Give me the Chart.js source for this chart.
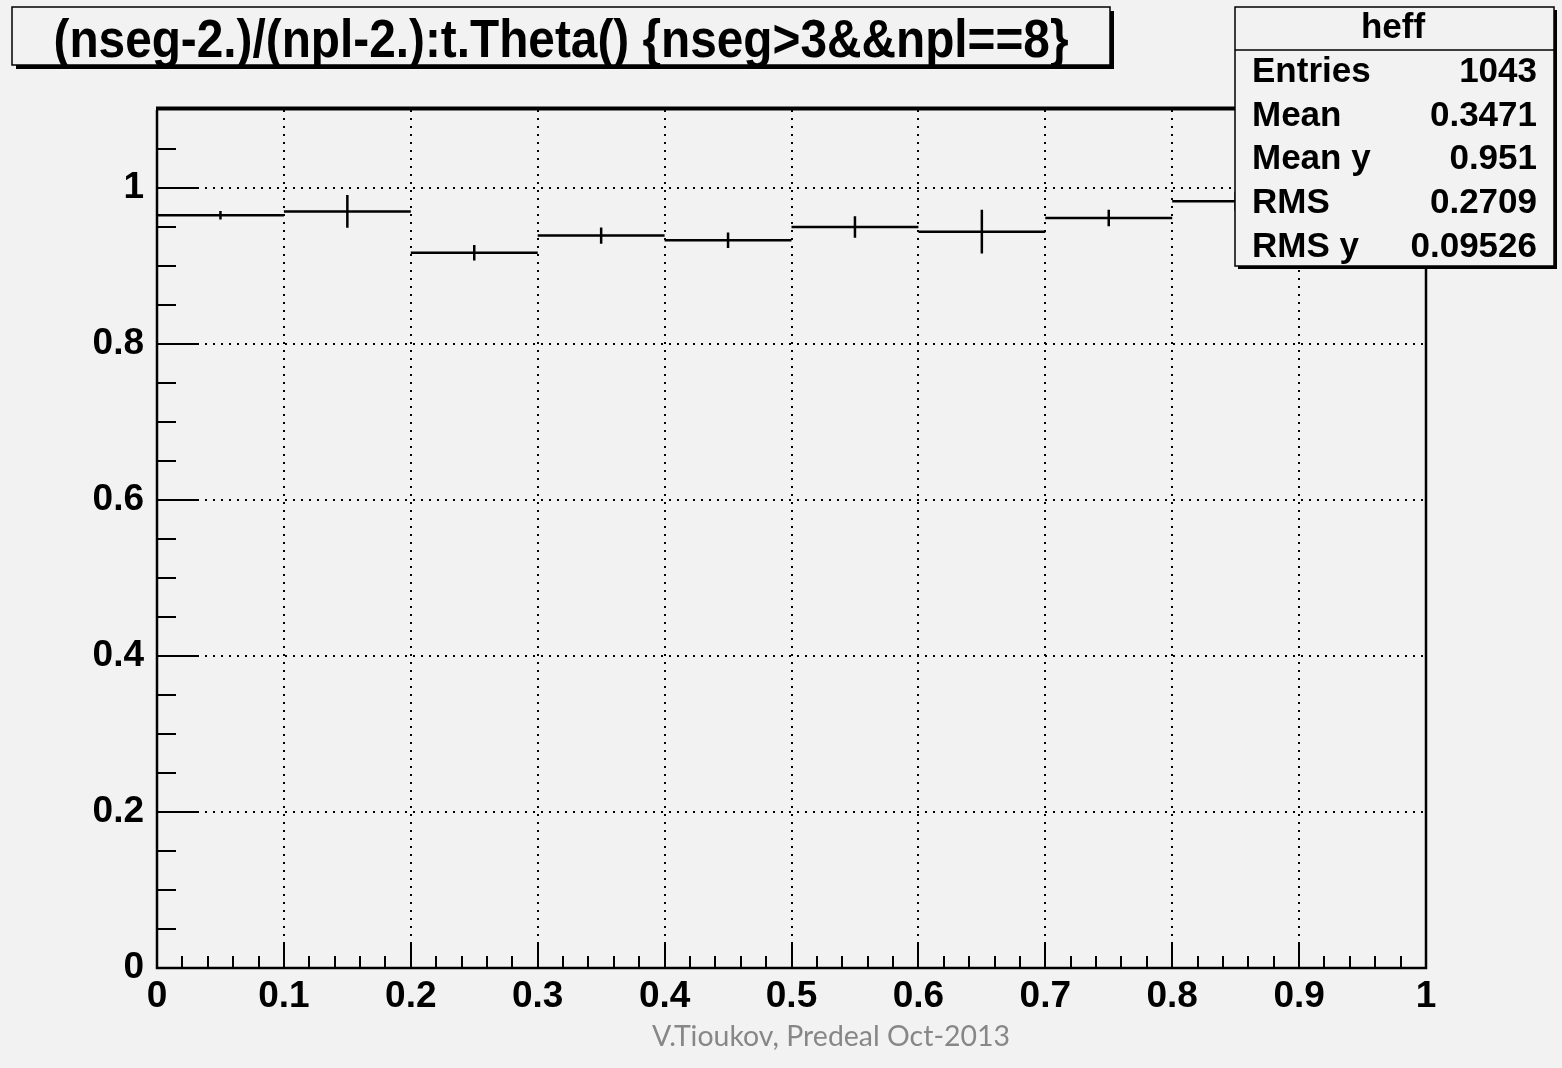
<!DOCTYPE html>
<html>
<head>
<meta charset="utf-8">
<title>heff</title>
<script src="https://cdn.jsdelivr.net/npm/chart.js@4.4.0/dist/chart.umd.min.js"></script>
<style>
  html, body { margin: 0; padding: 0; background: #f2f2f2; }
  canvas { display: block; }
</style>
</head>
<body>
<canvas id="c" width="1562" height="1068"></canvas>
<script>
// Profile of (nseg-2)/(npl-2) versus track theta, 10 bins of 0.1
const binEdges   = [0, 0.1, 0.2, 0.3, 0.4, 0.5, 0.6, 0.7, 0.8, 0.9, 1.0];
const effValues  = [0.965, 0.970, 0.917, 0.939, 0.933, 0.950, 0.944, 0.9615, 0.983, 0.955];
const effErrors  = [0.0054, 0.021, 0.010, 0.0105, 0.010, 0.0137, 0.028, 0.0105, 0.012, 0.015];

const xTickValues = [0, 0.1, 0.2, 0.3, 0.4, 0.5, 0.6, 0.7, 0.8, 0.9, 1];
const xTickLabels = ['0', '0.1', '0.2', '0.3', '0.4', '0.5', '0.6', '0.7', '0.8', '0.9', '1'];
const yTickValues = [0, 0.2, 0.4, 0.6, 0.8, 1];
const yTickLabels = ['0', '0.2', '0.4', '0.6', '0.8', '1'];

const titleText  = '(nseg-2.)/(npl-2.):t.Theta() {nseg>3&&npl==8}';
const statsName  = 'heff';
const statLabels = ['Entries', 'Mean', 'Mean y', 'RMS', 'RMS y'];
const statValues = ['1043', '0.3471', '0.951', '0.2709', '0.09526'];
const footerText = 'V.Tioukov, Predeal Oct-2013';

const BG = '#f2f2f2';
const AXIS_FONT = { family: '"Liberation Sans", Arial, sans-serif', weight: 'bold', size: 37 };

// horizontal bin lines: one segment per bin, separated by gaps
const histData = [];
const errData = [];
for (let i = 0; i < effValues.length; i++) {
  const lo = binEdges[i], hi = binEdges[i + 1], c = (lo + hi) / 2;
  histData.push({ x: lo, y: effValues[i] }, { x: hi, y: effValues[i] }, { x: hi, y: null });
  errData.push({ x: c, y: effValues[i] - effErrors[i] }, { x: c, y: effValues[i] + effErrors[i] }, { x: c, y: null });
}

function shadowBox(ctx, x, y, w, h, off) {
  ctx.fillStyle = '#000';
  ctx.fillRect(x + off, y + off, w, h);
  ctx.fillStyle = BG;
  ctx.fillRect(x, y, w, h);
  ctx.strokeStyle = '#000';
  ctx.lineWidth = 1.5;
  ctx.strokeRect(x, y, w, h);
}

const rootStyle = {
  id: 'rootStyle',
  beforeDraw(chart) {
    const ctx = chart.ctx;
    ctx.save();
    ctx.fillStyle = BG;
    ctx.fillRect(0, 0, chart.width, chart.height);
    ctx.restore();
  },
  afterDatasetsDraw(chart) {
    const ctx = chart.ctx;
    const xs = chart.scales.x, ys = chart.scales.y;
    const a = chart.chartArea;
    ctx.save();
    ctx.strokeStyle = '#000';
    ctx.lineWidth = 2;
    ctx.beginPath();
    // x ticks inside the frame: 5 subdivisions per 0.1
    for (let i = 0; i <= 50; i++) {
      const px = Math.round(xs.getPixelForValue(i / 50));
      const len = (i % 5 === 0) ? 25 : 12;
      ctx.moveTo(px, a.bottom);
      ctx.lineTo(px, a.bottom - len);
    }
    // y ticks inside the frame: 4 subdivisions per 0.2
    for (let i = 0; i < 22; i++) {
      const py = Math.round(ys.getPixelForValue(i / 20));
      const len = (i % 4 === 0) ? 41 : 19;
      ctx.moveTo(a.left, py);
      ctx.lineTo(a.left + len, py);
    }
    ctx.stroke();
    // frame
    ctx.lineWidth = 2.5;
    ctx.beginPath();
    ctx.moveTo(a.left, a.top);
    ctx.lineTo(a.left, a.bottom);
    ctx.lineTo(a.right, a.bottom);
    ctx.lineTo(a.right, a.top);
    ctx.stroke();
    ctx.lineWidth = 4;
    ctx.beginPath();
    ctx.moveTo(a.left - 1, a.top - 1.5);
    ctx.lineTo(a.right + 1, a.top - 1.5);
    ctx.stroke();
    ctx.restore();
  },
  afterDraw(chart) {
    const ctx = chart.ctx;
    ctx.save();
    // title pave
    shadowBox(ctx, 12, 7, 1098, 58, 4);
    ctx.fillStyle = '#000';
    ctx.font = 'bold 54px "Liberation Sans", Arial, sans-serif';
    ctx.textAlign = 'center';
    ctx.textBaseline = 'alphabetic';
    ctx.fillText(titleText, 561, 57, 1015);

    // statistics box
    const sx = 1235, sy = 7, sw = 319, sh = 259;
    shadowBox(ctx, sx, sy, sw, sh, 3);
    ctx.lineWidth = 1.5;
    ctx.beginPath();
    ctx.moveTo(sx, 50);
    ctx.lineTo(sx + sw, 50);
    ctx.stroke();
    ctx.fillStyle = '#000';
    ctx.font = 'bold 35px "Liberation Sans", Arial, sans-serif';
    ctx.textAlign = 'center';
    ctx.fillText(statsName, 1393, 38);
    for (let i = 0; i < statLabels.length; i++) {
      const by = 82 + i * 43.7;
      ctx.textAlign = 'left';
      ctx.fillText(statLabels[i], 1252, by);
      ctx.textAlign = 'right';
      ctx.fillText(statValues[i], 1537, by);
    }

    // footer
    ctx.fillStyle = '#878787';
    ctx.font = '29px Lato, "Open Sans", sans-serif';
    ctx.textAlign = 'center';
    ctx.fillText(footerText, 831, 1046, 358);
    ctx.restore();
  }
};

new Chart(document.getElementById('c'), {
  type: 'line',
  data: {
    datasets: [
      {
        label: 'bins',
        data: histData,
        borderColor: '#000',
        borderWidth: 2.5,
        pointRadius: 0,
        spanGaps: false,
        tension: 0,
        fill: false
      },
      {
        label: 'errors',
        data: errData,
        borderColor: '#000',
        borderWidth: 2.5,
        pointRadius: 0,
        spanGaps: false,
        tension: 0,
        fill: false
      }
    ]
  },
  options: {
    responsive: false,
    animation: false,
    devicePixelRatio: 1,
    layout: { padding: { top: 110, right: 136, left: 0, bottom: 0 } },
    plugins: {
      legend: { display: false },
      title: { display: false },
      tooltip: { enabled: false }
    },
    scales: {
      x: {
        type: 'linear',
        min: 0,
        max: 1,
        afterBuildTicks: s => { s.ticks = xTickValues.map(v => ({ value: v })); },
        afterFit: s => { s.height = 100; },
        ticks: {
          callback: (v, i) => xTickLabels[i],
          font: AXIS_FONT,
          color: '#000',
          padding: 7,
          maxRotation: 0,
          autoSkip: false
        },
        grid: { drawTicks: false, color: '#000', lineWidth: 2 },
        border: { display: false, dash: [2, 6] }
      },
      y: {
        type: 'linear',
        min: 0,
        max: 1.1,
        afterBuildTicks: s => { s.ticks = yTickValues.map(v => ({ value: v })); },
        afterFit: s => { s.width = 157; },
        ticks: {
          callback: (v, i) => yTickLabels[i],
          font: AXIS_FONT,
          color: '#000',
          padding: 13,
          autoSkip: false
        },
        grid: { drawTicks: false, color: '#000', lineWidth: 2 },
        border: { display: false, dash: [2, 6] }
      }
    }
  },
  plugins: [rootStyle]
});
</script>
</body>
</html>
